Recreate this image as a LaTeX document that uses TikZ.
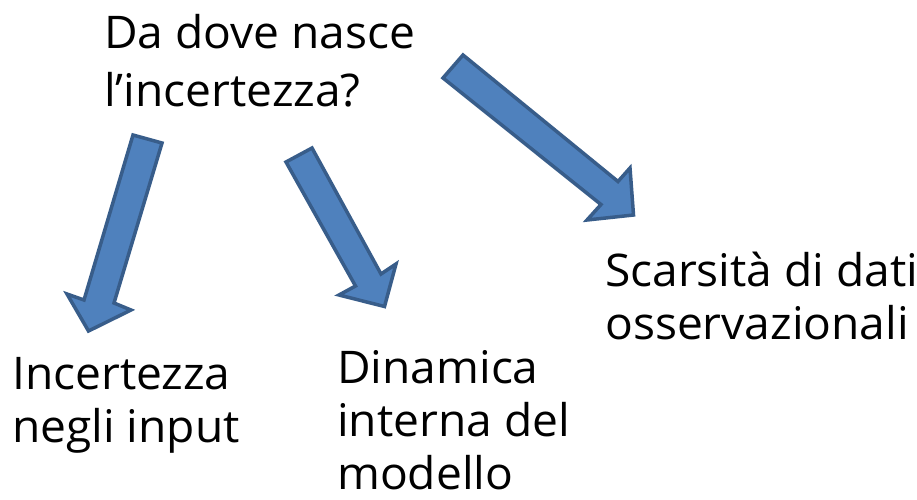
\documentclass[tikz,border=0pt]{standalone}
\usepackage{fontspec}
\setmainfont[FakeStretch=1.025]{Open Sans}
\definecolor{arrowfill}{HTML}{4F81BD}
\definecolor{arrowline}{HTML}{385D8A}
\begin{document}
\begin{tikzpicture}[x=1pt,y=-1pt,
  blockarrow/.style={fill=arrowfill,draw=arrowline,line width=3.5pt,line join=miter},
  txt/.style={anchor=north west,align=left,inner sep=0pt,font=\fontsize{45}{53}\selectfont}]
\useasboundingbox[fill=white] (0,0) rectangle (917,499);
\node[txt,font=\fontsize{45}{58}\selectfont] (q) at (104,14) {Da dove nasce\\l’incertezza?};
\node[txt] (a1) at (12,357) {Incertezza\\negli input};
\node[txt] (a2) at (337,350) {Dinamica\\interna del\\modello};
\node[txt] (a3) at (605,252) {Scarsità di dati\\osservazionali};
% arrow 1
\draw[blockarrow] (133,135) -- (162,143) -- (114,303) -- (131,310) -- (88.5,331) -- (67,294) -- (84,300) -- cycle;
% arrow 2
\draw[blockarrow] (286,162) -- (312,148) -- (381,274) -- (396,264) -- (384.5,306.5) -- (339,295) -- (355.5,286) -- cycle;
% arrow 3
\draw[blockarrow] (443,78) -- (463,55) -- (618,181.5) -- (630,168) -- (633.5,215) -- (587,220) -- (601,204.5) -- cycle;
\end{tikzpicture}
\end{document}
